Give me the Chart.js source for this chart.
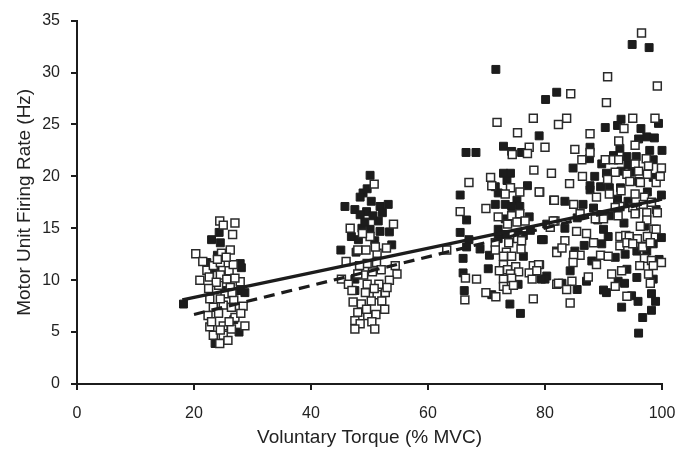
<!DOCTYPE html>
<html>
<head>
<meta charset="utf-8">
<script src="https://cdn.jsdelivr.net/npm/chart.js@4.4.1/dist/chart.umd.min.js"></script>
<style>
  html, body { margin: 0; padding: 0; background: #fff; }
  #wrap { width: 695px; height: 453px; }
</style>
</head>
<body>
<div id="wrap"><canvas id="chartScatter"></canvas></div>
<script>
// tick labels
const xTicks = [0, 20, 40, 60, 80, 100];
const yTicks = [0, 5, 10, 15, 20, 25, 30, 35];

// regression lines (ends)
const solidLineX = [18, 100];
const solidLineY = [8.1, 17.8];
const dashLineX = [20, 100];
const dashLineY = [6.7, 17.8];

// filled squares [torque, rate]
const filled25 = [[24.3,14.6],[23.0,13.9],[24.5,13.6],[22.2,11.7],[27.9,11.6],[28.1,11.2],[23.6,11.2],[22.7,10.7],
  [27.9,9.0],[28.7,8.8],[25.6,9.0],[18.2,7.7],[27.7,5.0],[23.6,3.9],[24.0,12.4],[26.8,6.2]];
const filled50 = [[50.1,20.1],[48.9,18.4],[48.4,18.0],[49.6,18.8],[50.3,17.6],[45.8,17.1],[53.2,17.3],[51.8,17.1],
  [47.5,16.8],[49.5,16.6],[48.4,16.3],[51.5,15.7],[48.7,15.0],[50.1,14.9],[51.8,14.7],[53.4,14.65],[48.1,13.9],
  [50.9,13.8],[53.8,13.4],[45.1,12.9],[47.7,12.7],[47.5,10.1],[47.5,9.0],[50.6,16.2],[49.2,15.6],[46.9,14.2],[52.2,16.5]];
const filledHigh = [[71.6,30.3],[94.9,32.7],[97.8,32.4],[82.0,28.1],[80.1,27.4],[93.0,25.5],[92.4,24.9],[90.3,24.7],
  [96.4,24.6],[99.4,25.1],[79.0,23.9],[96.0,23.6],[97.4,23.8],[98.7,23.7],[87.7,22.8],[92.8,22.7],[100,22.5],
  [97.9,22.5],[91.7,22.0],[94.0,21.9],[95.6,21.9],[72.9,22.9],[74.3,22.4],[76.0,22.3],[66.5,22.3],[68.2,22.3],
  [87.6,21.7],[98.5,21.6],[84.8,20.8],[89.7,21.2],[94.2,21.1],[88.5,20.0],[90.5,20.3],[94.9,20.4],[98.5,19.9],
  [72.9,20.3],[74.1,20.3],[73.5,19.6],[77.0,19.1],[71.5,19.0],[72.0,18.4],[65.5,18.2],[75.2,17.7],[71.5,17.3],
  [73.2,17.3],[74.3,17.1],[75.7,17.1],[66.6,15.8],[73.2,15.9],[77.3,16.1],[72.0,14.9],[77.5,14.8],[75.4,14.5],
  [73.2,14.4],[76.3,14.3],[65.5,14.6],[79.7,13.9],[67.0,13.9],[66.6,13.2],[68.9,13.0],[72.0,14.0],[70.5,12.4],
  [66.0,12.1],[76.3,12.3],[70.3,11.1],[66.0,10.7],[80.3,10.4],[80.0,10.1],[75.4,9.6],[66.2,9.0],[70.9,8.6],
  [74.0,7.7],[75.8,6.8],[87.7,19.1],[89.5,19.0],[91.0,18.9],[92.9,18.9],[87.7,18.7],[99.9,18.2],[83.4,17.6],
  [86.5,17.3],[92.4,17.8],[94.2,17.6],[88.3,16.95],[80.3,15.4],[83.4,15.0],[90.8,14.2],[90.0,14.9],[99.9,14.1],
  [79.4,13.9],[86.7,13.35],[89.7,13.5],[85.1,12.8],[92.0,12.2],[93.7,12.5],[95.7,12.8],[96.6,13.3],[97.4,12.8],
  [88.0,11.85],[79.1,11.5],[94.0,11.05],[84.3,10.9],[79.4,10.1],[95.7,10.26],[92.5,9.9],[93.6,9.7],[87.1,9.9],
  [82.9,9.7],[98.5,10.1],[85.5,9.1],[90.0,9.05],[90.5,8.8],[94.8,8.5],[98.2,8.7],[95.9,7.96],[98.9,7.96],
  [93.1,7.4],[98.2,7.1],[96.7,6.4],[96.0,4.9],[91.0,16.2],[93.5,15.5],[95.5,16.5],[97.0,15.2],[99.0,16.8],
  [89.0,15.8],[96.0,19.5],[93.0,20.5],[85.5,16.0],[99.5,12.0],[98.5,13.5],[97.5,18.5]];

// open squares [torque, rate]
const open25 = [[24.4,15.7],[25.0,15.3],[27.0,15.5],[26.6,14.4],[20.3,12.55],[24.7,12.6],[26.2,12.9],[22.2,10.96],
  [23.3,11.4],[24.5,11.7],[26.0,10.9],[26.7,11.5],[22.6,10.3],[24.5,10.5],[25.6,10.1],[27.9,9.85],[24.2,9.5],
  [26.2,9.3],[22.7,8.2],[25.3,8.7],[26.8,8.1],[23.3,7.4],[25.0,7.6],[26.4,7.4],[28.4,7.5],[22.4,6.6],[24.2,6.8],
  [27.0,6.4],[28.7,5.6],[22.7,5.5],[25.0,5.6],[26.4,5.3],[23.3,4.7],[25.0,4.7],[24.4,3.9],[24.0,12.0],[25.5,12.2],
  [21.5,11.8],[23.8,9.8],[26.5,8.8],[24.5,8.2],[22.5,9.2],[27.0,10.2],[21.0,10.0],[23.0,6.0],[26.0,6.0],
  [24.5,5.2],[28.0,6.8],[25.8,4.2]];
const open50 = [[50.8,19.25],[46.7,15.0],[54.1,15.4],[50.1,14.2],[52.9,13.1],[48.0,12.9],[49.4,12.9],[51.3,12.6],
  [51.2,11.7],[49.6,11.6],[48.3,11.4],[54.4,11.4],[54.7,10.6],[45.2,10.1],[46.4,9.6],[49.6,9.6],[51.6,9.6],
  [53.4,10.0],[47.0,9.0],[49.3,8.8],[51.3,8.6],[52.7,8.8],[47.2,7.9],[48.6,7.7],[50.3,8.0],[52.1,8.0],[52.6,7.2],
  [48.0,6.9],[49.7,6.6],[51.1,6.7],[47.5,6.1],[48.4,5.8],[50.4,6.0],[50.9,5.3],[47.5,5.3],[49.0,10.5],[50.5,10.8],
  [52.0,11.0],[48.0,10.6],[53.0,9.3],[46.0,11.8],[48.8,14.5],[51.0,13.2],[49.5,7.2],[50.8,9.2]];
const openHigh = [[96.5,33.8],[90.7,29.6],[99.2,28.7],[84.4,27.95],[90.5,27.1],[83.7,25.6],[82.3,25.0],[95.0,25.6],
  [93.5,24.6],[98.8,25.6],[87.7,24.1],[92.6,23.4],[80.0,22.8],[85.1,22.6],[87.7,22.3],[95.4,23.0],[86.3,21.6],
  [90.3,21.6],[91.7,21.6],[92.6,21.6],[97.3,21.7],[95.4,21.2],[97.7,21.0],[99.9,20.8],[81.1,20.3],[86.4,20.0],
  [92.0,20.4],[94.0,20.2],[96.0,20.5],[97.5,20.2],[79.1,18.5],[84.2,19.3],[90.7,19.7],[94.5,19.5],[96.3,19.4],
  [99.0,19.4],[88.8,18.0],[91.0,18.3],[93.0,18.6],[95.4,18.3],[97.0,18.0],[81.5,17.7],[84.9,17.3],[92.8,17.1],
  [95.0,17.0],[96.8,17.3],[98.2,17.5],[86.0,16.4],[89.0,16.3],[92.0,17.0],[95.4,16.4],[97.4,16.5],[99.2,16.5],
  [71.8,25.2],[78.0,25.6],[75.3,24.2],[77.3,22.8],[74.4,22.1],[77.0,22.2],[78.1,20.6],[70.7,19.9],[67.0,19.4],
  [70.9,19.1],[74.1,18.9],[75.7,18.5],[79.0,18.5],[73.2,18.3],[81.6,17.7],[65.5,16.6],[69.9,16.9],[72.0,16.1],
  [74.3,16.2],[75.7,16.4],[75.2,15.6],[76.6,15.7],[73.6,15.4],[81.7,15.7],[80.9,15.1],[75.3,14.0],[73.8,13.6],
  [71.5,13.6],[76.0,13.8],[63.2,12.9],[71.5,12.9],[73.4,12.7],[75.9,13.0],[82.0,12.8],[72.9,12.3],[74.3,12.3],
  [72.9,11.5],[72.2,10.9],[73.6,11.0],[75.0,11.3],[74.1,10.6],[75.5,10.8],[78.0,11.4],[78.9,11.5],[77.3,10.7],
  [78.6,10.9],[66.4,10.2],[68.3,10.1],[72.9,10.1],[74.3,10.2],[72.9,9.4],[73.5,9.1],[74.6,9.5],[82.0,9.6],
  [77.8,10.1],[66.3,8.1],[69.9,8.8],[71.6,8.4],[78.0,8.2],[97.4,15.8],[81.4,15.7],[88.6,15.9],[90.0,15.9],
  [92.5,16.2],[96.3,15.2],[98.6,14.9],[85.4,14.7],[87.1,14.5],[92.8,14.2],[93.8,14.3],[94.4,14.2],[95.8,14.0],
  [97.5,14.2],[99.0,14.9],[83.4,13.8],[88.3,13.6],[92.8,13.3],[94.0,13.6],[95.0,13.5],[96.7,13.2],[98.0,13.6],
  [82.0,12.65],[82.9,13.1],[86.0,12.4],[84.9,12.4],[89.5,12.4],[90.8,12.3],[97.0,12.1],[98.2,11.9],[84.8,11.7],
  [88.8,11.5],[96.2,11.4],[99.9,11.7],[98.5,11.4],[93.1,10.9],[91.4,10.6],[97.7,10.6],[87.4,10.3],[84.6,9.9],
  [82.3,9.7],[98.0,9.7],[83.7,9.1],[92.0,9.4],[94.0,8.45],[84.3,7.8],[99.7,20.0]];

const toPts = arr => arr.map(p => ({ x: p[0], y: p[1] }));
const toLine = (xs, ys) => xs.map((x, i) => ({ x: x, y: ys[i] }));

const ink = '#1c1c1c';
const fontFam = "'Liberation Sans', Arial, Helvetica, sans-serif";

const ctx = document.getElementById('chartScatter').getContext('2d');
const chart = new Chart(ctx, {
  type: 'scatter',
  data: {
    datasets: [
      {
        label: 'fit solid',
        data: toLine(solidLineX, solidLineY),
        showLine: true,
        borderColor: ink,
        borderWidth: 3.2,
        pointRadius: 0,
        clip: false
      },
      {
        label: 'fit dashed',
        data: toLine(dashLineX, dashLineY),
        showLine: true,
        borderColor: ink,
        borderWidth: 3.2,
        borderDash: [11, 7],
        pointRadius: 0,
        clip: false
      },
      {
        label: 'open',
        data: toPts(open25.concat(open50, openHigh)),
        pointStyle: 'rect',
        pointRadius: 5.6,
        backgroundColor: '#ffffff',
        borderColor: '#2a2a2a',
        borderWidth: 1.5,
        clip: false
      },
      {
        label: 'filled',
        data: toPts(filled25.concat(filled50, filledHigh)),
        pointStyle: 'rect',
        pointRadius: 5.6,
        backgroundColor: ink,
        borderColor: ink,
        borderWidth: 1,
        clip: false
      }
    ]
  },
  options: {
    responsive: true,
    maintainAspectRatio: false,
    animation: false,
    layout: {
      padding: { top: 18, right: 33, left: 0, bottom: 0 }
    },
    plugins: {
      legend: { display: false },
      tooltip: { enabled: false }
    },
    scales: {
      x: {
        type: 'linear',
        min: 0,
        max: 100,
        afterBuildTicks: function(scale) {
          scale.ticks = xTicks.map(v => ({ value: v }));
        },
        afterFit: function(scale) {
          scale.height = 453 - 384;
        },
        border: { display: true, color: ink, width: 2 },
        grid: { drawOnChartArea: false, drawTicks: true, tickLength: 6, color: ink, lineWidth: 2 },
        ticks: { color: '#222', font: { family: fontFam, size: 16 }, padding: 14 },
        title: {
          display: true,
          text: 'Voluntary Torque (% MVC)',
          color: '#222',
          font: { family: fontFam, size: 19 },
          padding: { top: 6, bottom: 4 }
        }
      },
      y: {
        type: 'linear',
        min: 0,
        max: 35,
        afterBuildTicks: function(scale) {
          scale.ticks = yTicks.map(v => ({ value: v }));
        },
        afterFit: function(scale) {
          scale.width = 77;
        },
        border: { display: true, color: ink, width: 2 },
        grid: { drawOnChartArea: false, drawTicks: true, tickLength: 6, color: ink, lineWidth: 2 },
        ticks: { color: '#222', font: { family: fontFam, size: 16 }, padding: 11 },
        title: {
          display: true,
          text: 'Motor Unit Firing Rate (Hz)',
          color: '#222',
          font: { family: fontFam, size: 19 },
          padding: { top: 13.5, bottom: 0 }
        }
      }
    }
  }
});
</script>
</body>
</html>
